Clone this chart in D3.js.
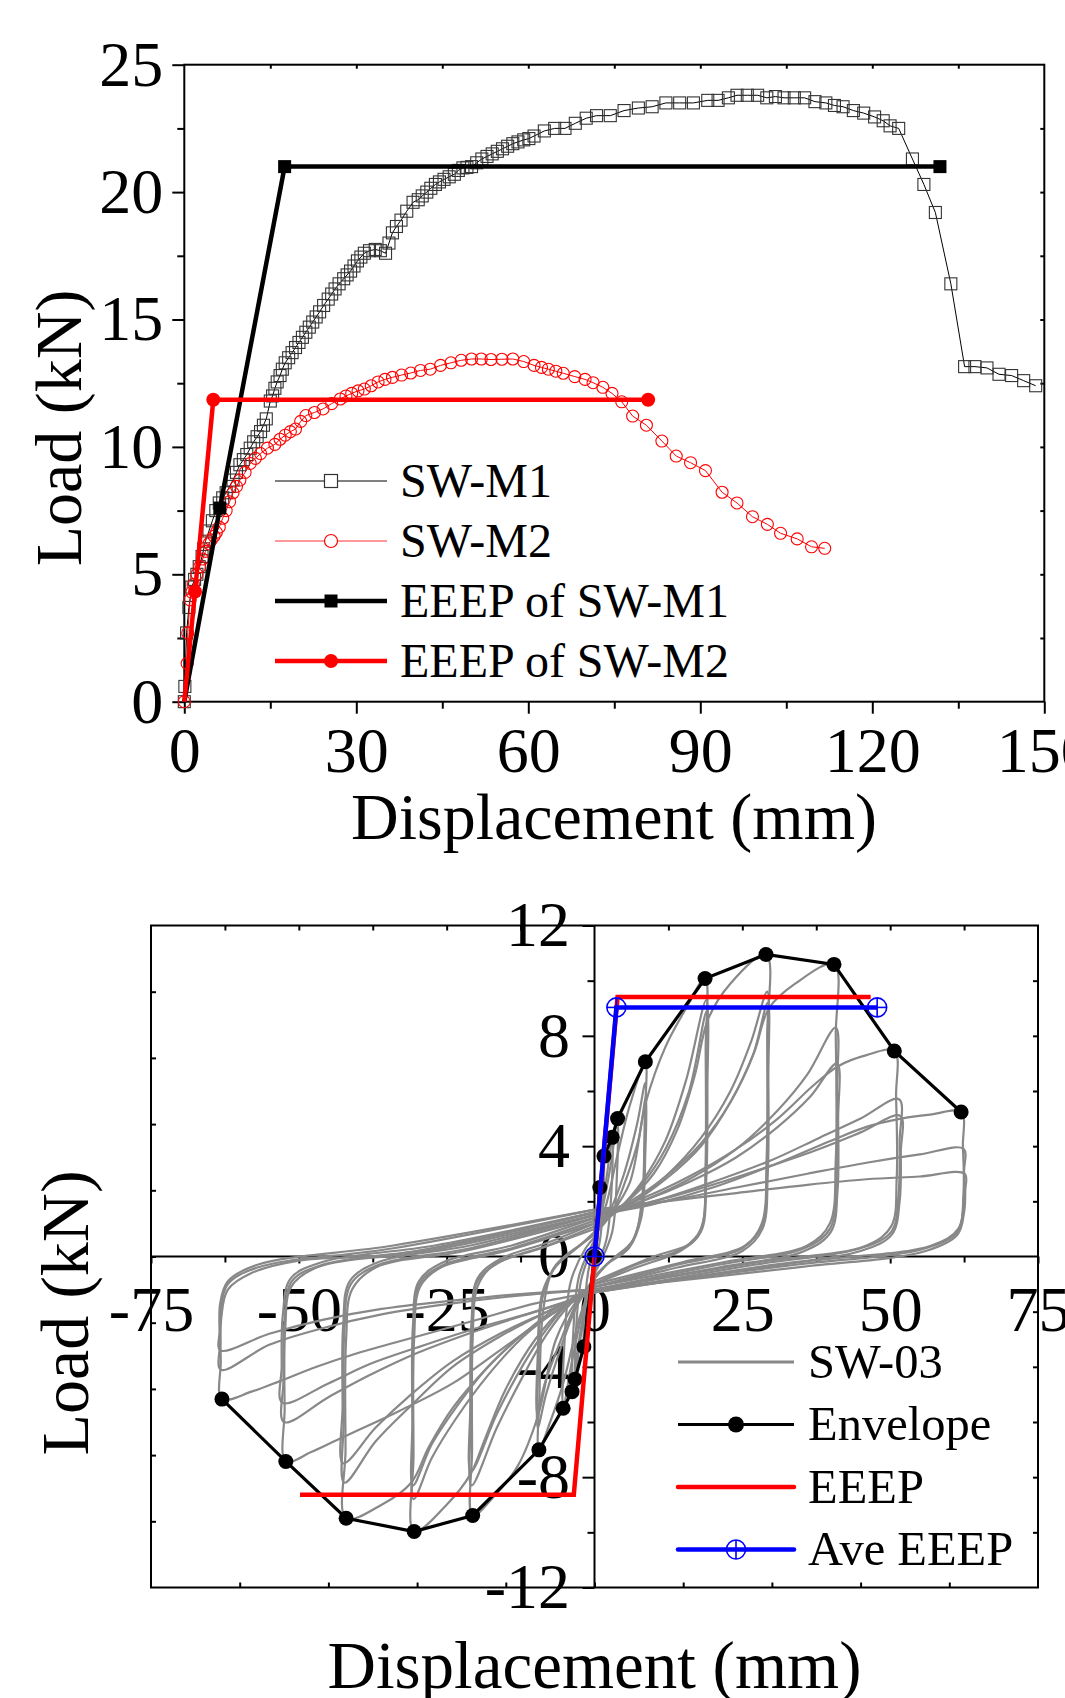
<!DOCTYPE html>
<html>
<head>
<meta charset="utf-8">
<script src="https://cdn.jsdelivr.net/npm/d3@7"></script>
<style>
body{margin:0;background:#fff;}
svg{display:block;}
</style>
</head>
<body>
<script>
//---------------- data ----------------
//top chart: monotonic tests, [displacement mm, load kN]
var m1Data = [[0,0],[0.1,0.6],[0.4,2.7],[0.8,3.7],[1.3,4.5],[1.8,4.8],[2.2,5.0],[2.6,5.3],[3.1,5.7],[3.4,6.0],[3.7,6.3],[4.3,6.7],[4.9,7.1],[5.5,7.5],[6.1,7.8],[6.7,8.0],[7.3,8.2],[7.9,8.45],[8.5,8.7],[9.1,9.0],[9.7,9.3],[10.3,9.5],[10.9,9.7],[11.5,9.95],[12.1,10.2],[12.7,10.4],[13.3,10.6],[13.8,10.85],[14.3,11.1],[15.0,11.8],[15.4,12.0],[15.8,12.3],[16.2,12.55],[16.7,12.8],[17.1,13.05],[17.6,13.3],[18.2,13.5],[18.8,13.7],[19.4,13.9],[20.0,14.1],[20.6,14.3],[21.2,14.5],[21.8,14.7],[22.4,14.9],[23.0,15.1],[23.6,15.3],[24.3,15.55],[25.1,15.8],[25.7,16.0],[26.3,16.2],[27.0,16.4],[27.8,16.6],[28.4,16.75],[29.0,16.9],[29.6,17.1],[30.2,17.3],[30.8,17.45],[31.4,17.6],[32.3,17.7],[33.3,17.75],[34.2,17.7],[35.1,17.6],[35.7,18.0],[36.3,18.4],[37.0,18.65],[37.8,18.9],[38.8,19.25],[39.9,19.6],[40.8,19.7],[41.5,19.85],[42.3,20.0],[43.0,20.15],[43.8,20.3],[44.5,20.4],[45.3,20.5],[46.2,20.6],[47.1,20.7],[47.8,20.85],[48.6,20.95],[49.3,20.97],[50.1,21.0],[51.0,21.15],[51.9,21.3],[52.8,21.4],[53.7,21.5],[54.6,21.6],[55.5,21.7],[56.4,21.8],[57.3,21.9],[58.2,21.97],[59.2,22.05],[60.1,22.1],[61.0,22.2],[62.8,22.4],[64.6,22.5],[66.4,22.5],[68.2,22.7],[70.1,22.9],[71.9,23.0],[74.3,23.0],[76.7,23.2],[79.2,23.3],[81.6,23.35],[84.0,23.5],[86.4,23.5],[88.8,23.5],[91.3,23.6],[93.1,23.6],[94.9,23.7],[96.4,23.8],[98.2,23.8],[100.0,23.8],[101.6,23.7],[103.1,23.75],[104.6,23.7],[106.4,23.7],[108.2,23.7],[110.0,23.55],[111.9,23.5],[113.4,23.4],[114.9,23.35],[116.7,23.2],[118.5,23.1],[120.4,22.95],[121.9,22.8],[123.1,22.6],[124.6,22.5],[127.0,21.3],[129.0,20.3],[131.0,19.2],[133.7,16.4],[136.1,13.15],[137.9,13.15],[140.0,13.1],[142.1,12.85],[144.3,12.8],[146.4,12.6],[148.5,12.4]];
var m2Data = [[0,0],[0.5,1.5],[0.6,2.7],[1.0,4.0],[1.3,4.3],[1.6,4.6],[2.2,5.0],[2.7,5.3],[3.2,5.6],[3.7,5.9],[4.3,6.2],[4.7,6.35],[5.2,6.5],[5.6,6.65],[6.1,6.85],[6.7,7.2],[7.3,7.5],[7.9,7.85],[8.5,8.2],[9.1,8.45],[9.7,8.7],[10.6,9.0],[11.5,9.35],[12.4,9.55],[13.3,9.74],[14.5,9.95],[15.8,10.1],[16.7,10.3],[17.6,10.46],[18.5,10.6],[19.4,10.7],[20.3,11.0],[21.2,11.23],[22.7,11.35],[24.2,11.49],[25.7,11.7],[27.2,11.88],[28.2,12.0],[29.2,12.1],[30.3,12.2],[31.4,12.27],[32.6,12.4],[33.8,12.55],[35.0,12.65],[36.3,12.73],[37.9,12.82],[39.5,12.9],[41.2,13.0],[42.9,13.05],[44.7,13.2],[46.5,13.3],[48.3,13.4],[50.1,13.45],[51.8,13.45],[53.5,13.43],[55.4,13.44],[57.3,13.45],[59.2,13.35],[61.0,13.2],[62.3,13.12],[63.5,13.05],[64.8,12.97],[66.1,12.89],[68.1,12.76],[69.9,12.65],[71.3,12.52],[73.0,12.34],[74.6,12.1],[76.3,11.77],[78.2,11.21],[80.6,10.85],[83.3,10.23],[85.8,9.64],[88.3,9.38],[90.9,9.07],[93.8,8.22],[96.4,7.8],[99.1,7.26],[101.7,6.96],[104.0,6.61],[106.9,6.39],[109.4,6.08],[111.7,6.02]];
var eeepM1 = [[0,0],[6.2,7.6],[17.5,21.0],[131.8,21.0]];
var eeepM2 = [[0,0],[1.87,4.32],[5.06,11.85],[80.9,11.85]];

var topXTicks = [0,30,60,90,120,150];
var topXMinor = [15,45,75,105,135];
var topYTicks = [0,5,10,15,20,25];
var topYMinor = [2.5,7.5,12.5,17.5,22.5];
var topLegend = ["SW-M1","SW-M2","EEEP of SW-M1","EEEP of SW-M2"];

//bottom chart: cyclic test SW-03, half cycles [displacement mm, load kN]
var hysSmall = [
 [[0,0],[0.3,0.9],[0.6,1.8],[0.9,2.5],[0.85,1.5],[0.5,0.6],[0,-0.2]],
 [[0,-0.2],[-0.6,-1.2],[-1.2,-2.3],[-1.8,-3.27],[-1.7,-2.0],[-1.1,-0.6],[0,0.4]],
 [[0,0.4],[0.6,1.4],[1.1,2.6],[1.6,3.64],[1.5,2.2],[1.0,0.7],[0,-0.4]],
 [[0,-0.4],[-1.2,-1.5],[-2.4,-3.0],[-3.3,-4.45],[-3.1,-2.6],[-2.2,-0.8],[0,0.5]],
 [[0,0.5],[1,1.5],[2,2.8],[3.0,4.32],[2.9,2.5],[2.0,0.6],[0,-0.5]],
 [[0,-0.5],[-1.5,-1.7],[-2.8,-3.3],[-3.8,-4.9],[-3.6,-2.8],[-2.6,-0.7],[0,0.6]],
 [[0,0.6],[1.5,1.9],[2.8,3.4],[3.9,5.0],[3.8,3.0],[3.0,0.9],[1,-0.2],[0,-0.6]],
 [[0,-0.6],[-2,-2.0],[-3.9,-3.9],[-5.3,-5.5],[-5.1,-3.2],[-4.0,-0.9],[-1.5,0.3],[0,0.7]]
];
var hys9 = [
 [[0,0.7],[2,1.9],[3.9,3.7],[6,5.5],[8.6,7.06],[8.5,5.0],[8.0,2.0],[6.5,0.6],[3,-0.1],[0,-0.7]],
 [[0,-0.7],[-2.5,-2.2],[-5.3,-4.6],[-7.5,-6.0],[-9.4,-7.01],[-9.3,-5.0],[-8.7,-2.0],[-7,-0.5],[-3,0.3],[0,0.8]],
 [[0,0.8],[2.5,1.6],[5,3.0],[7.2,4.8],[8.6,6.3],[8.5,4.2],[7.9,1.6],[6,0.4],[2.5,-0.2],[0,-0.8]],
 [[0,-0.8],[-3,-1.8],[-6,-3.5],[-8.2,-5.0],[-9.6,-6.2],[-9.5,-4.0],[-8.8,-1.5],[-6.5,-0.3],[-2.5,0.4],[0,0.8]],
 [[0,0.8],[3,1.6],[5.5,2.9],[7.5,4.3],[8.7,5.8],[8.6,3.8],[7.9,1.4],[5.8,0.3],[2,-0.3],[0,-0.8]],
 [[0,-0.8],[-3,-1.7],[-6,-3.2],[-8.4,-4.6],[-9.7,-5.7],[-9.6,-3.6],[-8.8,-1.3],[-6,-0.2],[-2,0.5],[0,0.9]]
];
var hys19 = [
 [[0,0.9],[3,1.6],[6,2.7],[8.7,5.6],[12,7.6],[15.5,9.0],[18.7,10.08],[18.8,7.5],[18.8,3.5],[18.3,1.2],[16.5,0.5],[10,0.0],[0,-0.9]],
 [[0,-0.9],[-3,-1.6],[-6.5,-3.0],[-9.6,-5.8],[-13,-7.6],[-17,-8.7],[-20.6,-9.39],[-20.7,-7],[-20.6,-3],[-19.8,-1.1],[-17,-0.3],[-9,0.3],[0,1.0]],
 [[0,1.0],[4,1.7],[8,2.7],[12,4.2],[15.5,6.4],[18.9,9.3],[19,6.5],[18.8,3.0],[18,1.0],[15,0.3],[7,-0.3],[0,-1.0]],
 [[0,-1.0],[-4,-1.7],[-8,-2.8],[-12,-4.3],[-16.5,-6.2],[-20.8,-8.3],[-20.9,-5.8],[-20.7,-2.6],[-19.8,-0.9],[-16,-0.2],[-8,0.4],[0,1.1]],
 [[0,1.1],[4,1.7],[8,2.6],[12,3.9],[16,6.0],[19,8.9],[19.1,6.2],[18.9,2.8],[18,0.9],[14.5,0.2],[7,-0.4],[0,-1.0]],
 [[0,-1.0],[-4,-1.6],[-8,-2.6],[-12,-3.9],[-16.5,-5.7],[-20.9,-7.8],[-21,-5.4],[-20.8,-2.4],[-19.8,-0.8],[-16,-0.1],[-8,0.5],[0,1.2]]
];
var hys30 = [
 [[0,1.2],[5,1.9],[10,3.0],[14,4.6],[17,6.6],[19.2,8.6],[23,9.9],[29,10.95],[29.2,8],[29.1,3.5],[28.3,1.2],[25.5,0.4],[15,-0.2],[0,-1.0]],
 [[0,-1.0],[-5,-1.8],[-10,-3.0],[-15,-4.8],[-18.5,-6.6],[-21,-7.9],[-25,-9.0],[-30.5,-9.97],[-30.6,-7.2],[-30.5,-3.0],[-29.5,-1.1],[-26,-0.4],[-15,0.2],[0,1.2]],
 [[0,1.2],[6,1.9],[12,2.9],[18,4.3],[23,6.0],[26.5,7.8],[29.2,9.6],[29.3,7],[29.2,3.2],[28.3,1.1],[25,0.3],[14,-0.3],[0,-1.1]],
 [[0,-1.1],[-6,-1.9],[-12,-2.9],[-18,-4.3],[-23.5,-5.9],[-27.5,-7.3],[-30.6,-8.8],[-30.7,-6.3],[-30.6,-2.7],[-29.6,-1.0],[-25.5,-0.3],[-14,0.3],[0,1.3]],
 [[0,1.3],[6,1.9],[12,2.8],[18,4.0],[23,5.6],[26.8,7.3],[29.3,9.2],[29.4,6.6],[29.3,3.0],[28.4,1.0],[25,0.2],[14,-0.4],[0,-1.1]],
 [[0,-1.1],[-6,-1.8],[-12,-2.8],[-18,-4.0],[-23.5,-5.5],[-27.5,-6.8],[-30.7,-8.3],[-30.8,-6.0],[-30.7,-2.5],[-29.7,-0.9],[-25.5,-0.2],[-14,0.4],[0,1.4]]
];
var hys41 = [
 [[0,1.4],[6,2.0],[12,2.9],[18,4.1],[23,5.6],[27,7.4],[29.5,9.0],[34,9.9],[40.5,10.59],[40.8,8],[40.8,3.5],[39.8,1.2],[36,0.4],[22,-0.2],[0,-1.1]],
 [[0,-1.1],[-6,-1.9],[-12,-2.8],[-18,-4.0],[-24,-5.5],[-28,-6.9],[-31,-8.2],[-36,-9.0],[-42,-9.49],[-42.1,-7],[-42,-3],[-41,-1.2],[-37,-0.4],[-22,0.2],[0,1.4]],
 [[0,1.4],[8,2.0],[16,2.8],[24,3.9],[31,5.3],[36,6.6],[40.8,8.3],[41,6],[40.9,2.8],[39.8,1.0],[35.5,0.3],[21,-0.3],[0,-1.2]],
 [[0,-1.2],[-8,-2.0],[-16,-2.9],[-24,-4.0],[-31,-5.4],[-37,-6.7],[-42.3,-8.2],[-42.4,-5.9],[-42.3,-2.7],[-41.2,-1.0],[-36.5,-0.3],[-21,0.3],[0,1.5]],
 [[0,1.5],[8,2.0],[16,2.7],[24,3.6],[31,4.7],[36.5,5.8],[41,7.0],[41.2,5.0],[41.1,2.4],[40,0.9],[35.5,0.2],[21,-0.4],[0,-1.2]],
 [[0,-1.2],[-8,-2.0],[-16,-2.8],[-24,-3.8],[-31,-5.0],[-37,-6.2],[-42.5,-7.5],[-42.6,-5.4],[-42.5,-2.5],[-41.4,-0.9],[-36.5,-0.2],[-21,0.4],[0,1.5]]
];
var hys51 = [
 [[0,1.5],[8,2.1],[16,2.9],[24,3.9],[31,5.0],[37,6.2],[41.2,6.9],[46,7.3],[50.7,7.45],[51,5.8],[51.1,2.8],[50.2,1.1],[46,0.4],[28,-0.2],[0,-1.2]],
 [[0,-1.2],[-8,-2.2],[-16,-3.4],[-24,-4.6],[-33,-5.6],[-40,-6.3],[-44,-6.7],[-48,-7.1],[-52.2,-7.43],[-52.4,-5.5],[-52.3,-2.6],[-51.3,-1.1],[-47,-0.4],[-28,0.2],[0,1.5]],
 [[0,1.5],[10,2.0],[20,2.7],[30,3.5],[38,4.3],[45,5.0],[51.5,5.7],[51.6,4.2],[51.4,2.2],[50.2,0.9],[45,0.3],[27,-0.3],[0,-1.3]],
 [[0,-1.3],[-10,-2.0],[-20,-2.7],[-30,-3.5],[-38,-4.3],[-45,-5.1],[-52.5,-6.0],[-52.6,-4.5],[-52.4,-2.3],[-51.2,-0.9],[-46,-0.3],[-27,0.3],[0,1.6]],
 [[0,1.6],[10,2.0],[20,2.6],[30,3.3],[38,3.9],[45,4.5],[51.7,5.1],[51.8,3.8],[51.6,2.0],[50.3,0.8],[45,0.2],[27,-0.4],[0,-1.3]],
 [[0,-1.3],[-10,-2.0],[-20,-2.6],[-30,-3.3],[-38,-3.9],[-45,-4.6],[-52.8,-5.3],[-52.9,-4.0],[-52.7,-2.1],[-51.4,-0.8],[-46,-0.2],[-27,0.4],[0,1.6]]
];
var hys62 = [
 [[0,1.5],[10,1.9],[20,2.5],[30,3.3],[40,4.2],[46,4.7],[51.8,5.0],[57,5.15],[62,5.24],[62.3,4.0],[62.4,2.3],[61.5,1.0],[57,0.4],[35,-0.2],[0,-1.3]],
 [[0,-1.3],[-10,-1.7],[-20,-2.3],[-30,-2.9],[-40,-3.5],[-47,-4.0],[-53,-4.5],[-58,-4.9],[-63,-5.17],[-63.2,-3.8],[-63.1,-2.2],[-62,-1.2],[-58,-0.6],[-50,-0.15],[-33,0.1],[0,1.6]],
 [[0,1.6],[12,2.0],[24,2.5],[36,3.0],[46,3.4],[55,3.7],[62.4,3.9],[62.5,3.1],[62.4,1.9],[61.4,0.9],[56,0.3],[34,-0.3],[0,-1.2]],
 [[0,-1.2],[-12,-1.4],[-24,-1.7],[-36,-2.1],[-46,-2.6],[-55,-3.2],[-63.2,-4.1],[-63.3,-3.1],[-63.2,-1.9],[-62,-1.0],[-57,-0.4],[-34,0.3],[0,1.7]],
 [[0,1.7],[12,2.0],[24,2.3],[36,2.6],[46,2.8],[55,2.9],[62.6,3.0],[62.7,2.4],[62.5,1.6],[61.4,0.8],[56,0.2],[34,-0.4],[0,-1.2]],
 [[0,-1.2],[-12,-1.35],[-24,-1.6],[-36,-1.9],[-46,-2.3],[-55,-2.8],[-63.3,-3.4],[-63.4,-2.7],[-63.3,-1.7],[-62,-0.9],[-57,-0.3],[-34,0.4],[0,1.7]]
];
var envelope = [[-63,-5.17],[-52.2,-7.43],[-42,-9.49],[-30.5,-9.97],[-20.6,-9.39],[-9.4,-7.01],[-5.3,-5.5],[-3.8,-4.9],[-3.3,-4.45],[-1.8,-3.27],[0,0],[0.9,2.5],[1.6,3.64],[3.0,4.32],[3.9,5.0],[8.6,7.06],[18.7,10.08],[29.0,10.95],[40.5,10.59],[50.7,7.45],[62.0,5.24]];
var eeep03 = [[-49.8,-8.64],[-3.5,-8.64],[0,0],[3.9,9.41],[46.7,9.41]];
var aveEeep = [[0,0],[3.7,9.03],[47.8,9.03]];

var botXTicks = [-75,-50,-25,0,25,50,75];
var botXMinor = [-62.5,-37.5,-12.5,12.5,37.5,62.5];
var botYTicks = [-12,-8,-4,0,4,8,12];
var botYMinor = [-10,-6,-2,2,6,10];
var botLegend = ["SW-03","Envelope","EEEP","Ave EEEP"];

(function(){

var width = 1065,
    height = 1698;
var serif = '"Liberation Serif","Times New Roman",Times,serif';

var svg = d3.select("body")
    .append("svg")
    .attr("width", width)
    .attr("height", height);

//common look of the tick groups
function styleAxis(sel, size){
    sel.attr("font-family", serif).attr("font-size", size);
    sel.select(".domain").remove();
    sel.selectAll(".tick line").attr("stroke", "#000").attr("stroke-width", 2);
    sel.selectAll(".tick text").attr("fill", "#000");
}
function noLabel(){ return ""; }
function asText(d){ return String(d); }

//================= top chart =================
var x1 = d3.scaleLinear().domain([0, 150]).range([184.3, 1044.3]);
var y1 = d3.scaleLinear().domain([0, 25]).range([701.7, 64.7]);

var top = svg.append("g").attr("class", "topChart");

top.append("g").attr("transform", "translate(0,701.7)")
    .call(d3.axisBottom(x1).tickValues(topXTicks).tickSize(12).tickPadding(13).tickFormat(asText))
    .call(styleAxis, 64);
top.append("g").attr("transform", "translate(0,701.7)")
    .call(d3.axisBottom(x1).tickValues(topXMinor).tickSize(7).tickFormat(noLabel))
    .call(styleAxis, 64);
top.append("g").attr("transform", "translate(184.3,0)")
    .call(d3.axisLeft(y1).tickValues(topYTicks).tickSize(12).tickPadding(9).tickFormat(asText))
    .call(styleAxis, 64);
top.append("g").attr("transform", "translate(184.3,0)")
    .call(d3.axisLeft(y1).tickValues(topYMinor).tickSize(7).tickFormat(noLabel))
    .call(styleAxis, 64);
//small inward ticks on top and right edges
top.append("g").attr("transform", "translate(0,64.7)")
    .call(d3.axisTop(x1).tickValues(topXMinor.concat(topXTicks.slice(1, -1))).tickSize(-4).tickFormat(noLabel))
    .call(styleAxis, 10);
top.append("g").attr("transform", "translate(1044.3,0)")
    .call(d3.axisRight(y1).tickValues(topYMinor.concat(topYTicks.slice(1, -1))).tickSize(-4).tickFormat(noLabel))
    .call(styleAxis, 10);

top.append("rect")
    .attr("x", x1(0)).attr("y", y1(25))
    .attr("width", x1(150) - x1(0)).attr("height", y1(0) - y1(25))
    .attr("fill", "none").attr("stroke", "#000").attr("stroke-width", 2);

var line1 = d3.line().x(function(d){ return x1(d[0]); }).y(function(d){ return y1(d[1]); });

//SW-M1
top.append("path").datum(m1Data)
    .attr("d", line1).attr("fill", "none").attr("stroke", "#000").attr("stroke-width", 1);
top.selectAll(".m1pt").data(m1Data).enter().append("rect")
    .attr("class", "m1pt")
    .attr("x", function(d){ return x1(d[0]) - 6; })
    .attr("y", function(d){ return y1(d[1]) - 6; })
    .attr("width", 12).attr("height", 12)
    .attr("fill", "none").attr("stroke", "#333").attr("stroke-width", 1.1);

//SW-M2
top.append("path").datum(m2Data)
    .attr("d", line1).attr("fill", "none").attr("stroke", "#f00").attr("stroke-width", 1);
top.selectAll(".m2pt").data(m2Data).enter().append("circle")
    .attr("class", "m2pt")
    .attr("cx", function(d){ return x1(d[0]); })
    .attr("cy", function(d){ return y1(d[1]); })
    .attr("r", 6)
    .attr("fill", "none").attr("stroke", "#f00").attr("stroke-width", 1.1);

//EEEP lines
top.append("path").datum(eeepM1)
    .attr("d", line1).attr("fill", "none").attr("stroke", "#000").attr("stroke-width", 4.5);
top.selectAll(".e1pt").data(eeepM1.slice(1)).enter().append("rect")
    .attr("class", "e1pt")
    .attr("x", function(d){ return x1(d[0]) - 6.5; })
    .attr("y", function(d){ return y1(d[1]) - 6.5; })
    .attr("width", 13).attr("height", 13).attr("fill", "#000");
top.append("path").datum(eeepM2)
    .attr("d", line1).attr("fill", "none").attr("stroke", "#f00").attr("stroke-width", 4.5);
top.selectAll(".e2pt").data(eeepM2.slice(1)).enter().append("circle")
    .attr("class", "e2pt")
    .attr("cx", function(d){ return x1(d[0]); })
    .attr("cy", function(d){ return y1(d[1]); })
    .attr("r", 7).attr("fill", "#f00");

//legend
var legTop = top.append("g").attr("font-family", serif).attr("font-size", 48);
var legRows = [481, 541, 601, 661];
legTop.selectAll("text").data(topLegend).enter().append("text")
    .attr("x", 400).attr("y", function(d, i){ return legRows[i] + 16; })
    .text(function(d){ return d; });
legTop.append("line").attr("x1", 275).attr("x2", 387).attr("y1", legRows[0]).attr("y2", legRows[0])
    .attr("stroke", "#000").attr("stroke-width", 1);
legTop.append("rect").attr("x", 331 - 6.5).attr("y", legRows[0] - 6.5).attr("width", 13).attr("height", 13)
    .attr("fill", "#fff").attr("stroke", "#333").attr("stroke-width", 1.2);
legTop.append("line").attr("x1", 275).attr("x2", 387).attr("y1", legRows[1]).attr("y2", legRows[1])
    .attr("stroke", "#f33").attr("stroke-width", 1.2);
legTop.append("circle").attr("cx", 331).attr("cy", legRows[1]).attr("r", 6.5)
    .attr("fill", "#fff").attr("stroke", "#f00").attr("stroke-width", 1.2);
legTop.append("line").attr("x1", 275).attr("x2", 387).attr("y1", legRows[2]).attr("y2", legRows[2])
    .attr("stroke", "#000").attr("stroke-width", 4.5);
legTop.append("rect").attr("x", 331 - 6.5).attr("y", legRows[2] - 6.5).attr("width", 13).attr("height", 13)
    .attr("fill", "#000");
legTop.append("line").attr("x1", 275).attr("x2", 387).attr("y1", legRows[3]).attr("y2", legRows[3])
    .attr("stroke", "#f00").attr("stroke-width", 4.5);
legTop.append("circle").attr("cx", 331).attr("cy", legRows[3]).attr("r", 7).attr("fill", "#f00");

//titles
top.append("text").attr("x", 614).attr("y", 839)
    .attr("text-anchor", "middle").attr("font-family", serif).attr("font-size", 66)
    .text("Displacement (mm)");
top.append("text").attr("transform", "translate(81,428) rotate(-90)")
    .attr("text-anchor", "middle").attr("font-family", serif).attr("font-size", 66)
    .text("Load (kN)");

//================= bottom chart =================
var x2 = d3.scaleLinear().domain([-75, 75]).range([151, 1038]);
var y2 = d3.scaleLinear().domain([-12, 12]).range([1587.5, 925.5]);

var bot = svg.append("g").attr("class", "bottomChart");

bot.append("rect")
    .attr("x", x2(-75)).attr("y", y2(12))
    .attr("width", x2(75) - x2(-75)).attr("height", y2(-12) - y2(12))
    .attr("fill", "none").attr("stroke", "#000").attr("stroke-width", 2);

//inward frame ticks
bot.append("g").attr("transform", "translate(0," + y2(12) + ")")
    .call(d3.axisTop(x2).tickValues(botXMinor.concat([-50,-25,25,50])).tickSize(-5).tickFormat(noLabel))
    .call(styleAxis, 10);
bot.append("g").attr("transform", "translate(" + x2(75) + ",0)")
    .call(d3.axisRight(y2).tickValues(botYMinor.concat([-8,-4,4,8])).tickSize(-5).tickFormat(noLabel))
    .call(styleAxis, 10);
//left and bottom edges are split into ten equal parts
var frameDivY = d3.scaleLinear().domain([0, 10]).range([y2(12), y2(-12)]);
bot.append("g").attr("transform", "translate(" + x2(-75) + ",0)")
    .call(d3.axisLeft(frameDivY).tickValues(d3.range(1, 10)).tickSize(-5).tickFormat(noLabel))
    .call(styleAxis, 10);
var frameDivX = d3.scaleLinear().domain([0, 10]).range([x2(-75), x2(75)]);
bot.append("g").attr("transform", "translate(0," + y2(-12) + ")")
    .call(d3.axisBottom(frameDivX).tickValues(d3.range(1, 10)).tickSize(-5).tickFormat(noLabel))
    .call(styleAxis, 10);

//axes through zero
bot.append("g").attr("transform", "translate(0," + y2(0) + ")")
    .call(d3.axisBottom(x2).tickValues(botXTicks).tickSize(7).tickPadding(22).tickFormat(asText))
    .call(styleAxis, 64);
bot.append("g").attr("transform", "translate(0," + y2(0) + ")")
    .call(d3.axisBottom(x2).tickValues(botXMinor).tickSize(6).tickFormat(noLabel))
    .call(styleAxis, 64);
bot.append("g").attr("transform", "translate(" + x2(0) + ",0)")
    .call(d3.axisLeft(y2).tickValues(botYTicks).tickSize(12).tickPadding(12.5).tickFormat(asText))
    .call(styleAxis, 64);
bot.append("g").attr("transform", "translate(" + x2(0) + ",0)")
    .call(d3.axisLeft(y2).tickValues(botYMinor).tickSize(7).tickFormat(noLabel))
    .call(styleAxis, 64);
bot.append("line").attr("x1", x2(-75)).attr("x2", x2(75)).attr("y1", y2(0)).attr("y2", y2(0))
    .attr("stroke", "#000").attr("stroke-width", 2);
bot.append("line").attr("x1", x2(0)).attr("x2", x2(0)).attr("y1", y2(12)).attr("y2", y2(-12))
    .attr("stroke", "#000").attr("stroke-width", 2);

var line2 = d3.line().x(function(d){ return x2(d[0]); }).y(function(d){ return y2(d[1]); });
var smooth2 = d3.line().x(function(d){ return x2(d[0]); }).y(function(d){ return y2(d[1]); })
    .curve(d3.curveCatmullRom.alpha(0.5));

//hysteresis loops
var halfCycles = [].concat(hysSmall, hys9, hys19, hys30, hys41, hys51, hys62);
bot.selectAll(".hys").data(halfCycles).enter().append("path")
    .attr("class", "hys")
    .attr("d", smooth2)
    .attr("fill", "none").attr("stroke", "#888").attr("stroke-width", 2.2)
    .attr("stroke-linejoin", "round");

//envelope
bot.append("path").datum(envelope)
    .attr("d", line2).attr("fill", "none").attr("stroke", "#000").attr("stroke-width", 3.2);
bot.selectAll(".env").data(envelope).enter().append("circle")
    .attr("class", "env")
    .attr("cx", function(d){ return x2(d[0]); })
    .attr("cy", function(d){ return y2(d[1]); })
    .attr("r", 7.5).attr("fill", "#000");

//EEEP
bot.append("path").datum(eeep03)
    .attr("d", line2).attr("fill", "none").attr("stroke", "#f00").attr("stroke-width", 4.5);

//average EEEP with crossed circles
bot.append("path").datum(aveEeep)
    .attr("d", line2).attr("fill", "none").attr("stroke", "#00f").attr("stroke-width", 4.5);
function crossCircle(g, cx, cy){
    g.append("circle").attr("cx", cx).attr("cy", cy).attr("r", 9.5)
        .attr("fill", "none").attr("stroke", "#00f").attr("stroke-width", 1.6);
    g.append("line").attr("x1", cx - 9.5).attr("x2", cx + 9.5).attr("y1", cy).attr("y2", cy)
        .attr("stroke", "#00f").attr("stroke-width", 1.6);
    g.append("line").attr("x1", cx).attr("x2", cx).attr("y1", cy - 9.5).attr("y2", cy + 9.5)
        .attr("stroke", "#00f").attr("stroke-width", 1.6);
}
aveEeep.forEach(function(d){ crossCircle(bot, x2(d[0]), y2(d[1])); });

//legend
var legBot = bot.append("g").attr("font-family", serif).attr("font-size", 48.5);
var legRows2 = [1362, 1424.5, 1487, 1549.5];
legBot.selectAll("text").data(botLegend).enter().append("text")
    .attr("x", 808).attr("y", function(d, i){ return legRows2[i] + 15.5; })
    .text(function(d){ return d; });
legBot.append("line").attr("x1", 678).attr("x2", 794).attr("y1", legRows2[0]).attr("y2", legRows2[0])
    .attr("stroke", "#888").attr("stroke-width", 3);
legBot.append("line").attr("x1", 678).attr("x2", 794).attr("y1", legRows2[1]).attr("y2", legRows2[1])
    .attr("stroke", "#000").attr("stroke-width", 3.2);
legBot.append("circle").attr("cx", 736).attr("cy", legRows2[1]).attr("r", 8).attr("fill", "#000");
legBot.append("line").attr("x1", 678).attr("x2", 794).attr("y1", legRows2[2]).attr("y2", legRows2[2])
    .attr("stroke", "#f00").attr("stroke-width", 4.5).attr("stroke-linecap", "round");
legBot.append("line").attr("x1", 678).attr("x2", 794).attr("y1", legRows2[3]).attr("y2", legRows2[3])
    .attr("stroke", "#00f").attr("stroke-width", 4.5).attr("stroke-linecap", "round");
crossCircle(legBot, 736, legRows2[3]);

//titles
bot.append("text").attr("x", 594.5).attr("y", 1688)
    .attr("text-anchor", "middle").attr("font-family", serif).attr("font-size", 67)
    .text("Displacement (mm)");
bot.append("text").attr("transform", "translate(88,1313) rotate(-90)")
    .attr("text-anchor", "middle").attr("font-family", serif).attr("font-size", 68)
    .text("Load (kN)");

})();
</script>
</body>
</html>
